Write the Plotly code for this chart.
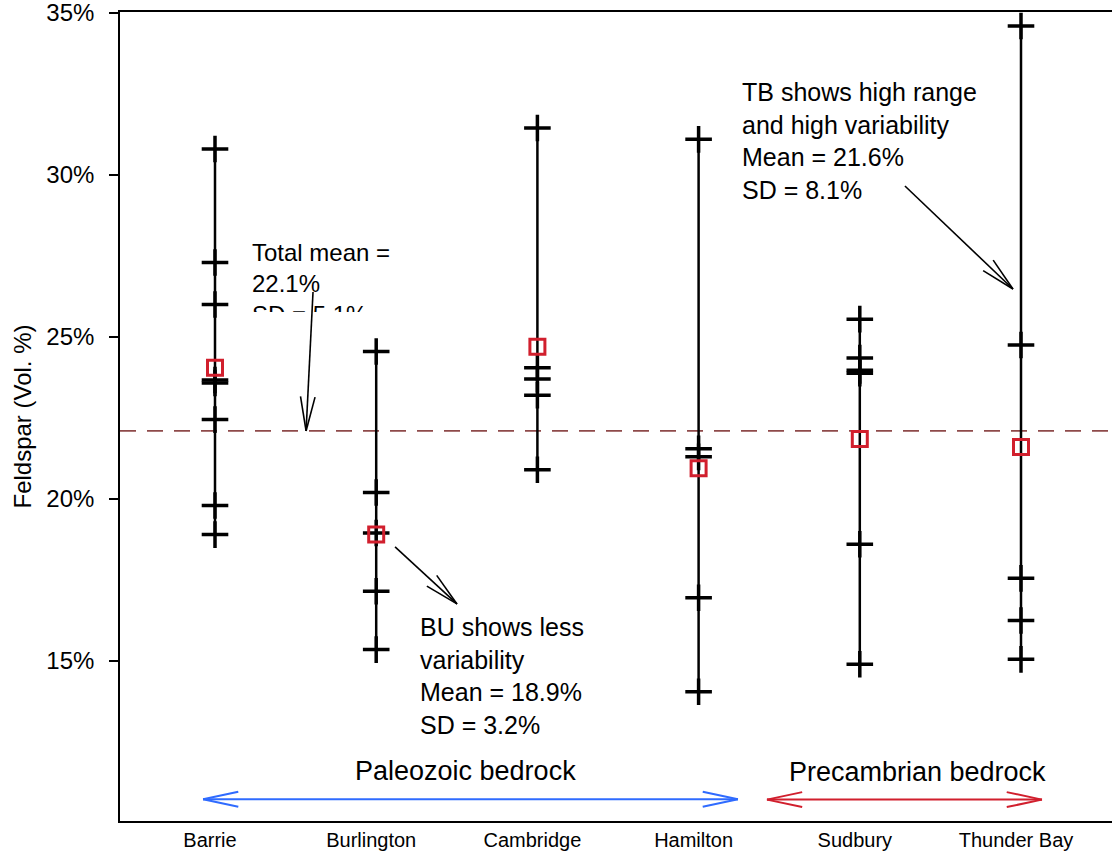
import math
import plotly.graph_objects as go

# ---------------- data ----------------
sites = ["Barrie", "Burlington", "Cambridge", "Hamilton", "Sudbury", "Thunder Bay"]
barrie = [30.8, 27.3, 26.0, 23.67, 23.58, 22.45, 19.8, 18.9]
burlington = [24.55, 20.2, 18.95, 17.15, 15.35]
cambridge = [31.45, 24.05, 23.7, 23.2, 20.9]
hamilton = [31.1, 21.55, 21.3, 16.95, 14.05]
sudbury = [25.55, 24.35, 23.97, 23.88, 18.6, 14.9]
thunder_bay = [34.6, 24.75, 17.55, 16.25, 15.05]
site_means = [24.05, 18.9, 24.7, 20.95, 21.85, 21.6]
total_mean = 22.1
y_ticks = [15, 20, 25, 30, 35]
y_tick_labels = ["15%", "20%", "25%", "30%", "35%"]

site_values = [barrie, burlington, cambridge, hamilton, sudbury, thunder_bay]
xpos = list(range(1, len(sites) + 1))

# ---------------- geometry ----------------
W, H = 1112, 851
ML, MR, MT, MB = 120, 0, 12, 30
X_RANGE = [0.4107, 6.5645]
Y_RANGE = [10.06, 35.03]
PW, PH = W - ML - MR, H - MT - MB
SX = PW / (X_RANGE[1] - X_RANGE[0])
SY = PH / (Y_RANGE[1] - Y_RANGE[0])

FONT = "Liberation Sans, Arial, Helvetica, sans-serif"
RED = "#D11F2D"
BLUE = "#2F6BFF"

fig = go.Figure()

# vertical range lines
lx, ly = [], []
for x, vals in zip(xpos, site_values):
    lx += [x, x, None]
    ly += [min(vals), max(vals), None]
fig.add_trace(go.Scatter(x=lx, y=ly, mode="lines",
                         line=dict(color="black", width=2.5),
                         hoverinfo="skip", showlegend=False))

# individual samples as crosses
px_, py_ = [], []
for x, vals in zip(xpos, site_values):
    px_ += [x] * len(vals)
    py_ += vals
fig.add_trace(go.Scatter(x=px_, y=py_, mode="markers",
                         marker=dict(symbol="cross-thin", size=19,
                                     line=dict(color="black", width=3.5)),
                         showlegend=False))

# site means
fig.add_trace(go.Scatter(x=xpos, y=site_means, mode="markers",
                         marker=dict(symbol="square-open", size=15, color=RED,
                                     line=dict(color=RED, width=3)),
                         showlegend=False))

# total mean text (partly hidden below)
fig.add_trace(go.Scatter(x=[1.2295], y=[27.9], mode="text",
                         text=["Total mean =<br>22.1%<br>SD = 5.1%"],
                         textposition="bottom right",
                         textfont=dict(family=FONT, size=24, color="black"),
                         showlegend=False, hoverinfo="skip"))

shapes = []
# dashed total mean line
shapes.append(dict(type="line", xref="paper", x0=0, x1=1, yref="y",
                   y0=total_mean, y1=total_mean, layer="below",
                   line=dict(color="#8E4A4A", width=1.6, dash="16px,11px")))
# white mask clipping the SD line
shapes.append(dict(type="rect", xref="x", yref="y", x0=1.17, x1=2.34,
                   y0=24.98, y1=25.77, layer="above",
                   fillcolor="white", line=dict(width=0)))


def arrow(x0, y0, x1, y1, color, width, both=False, L=35, ha=12):
    out = [dict(type="line", xref="x", yref="y", x0=x0, y0=y0, x1=x1, y1=y1,
                layer="above", line=dict(color=color, width=width))]
    ends = [(x0, y0, x1, y1)]
    if both:
        ends.append((x1, y1, x0, y0))
    for (ax, ay, bx, by) in ends:
        ang = math.atan2((by - ay) * SY, (bx - ax) * SX)
        for s in (-1, 1):
            a = ang + math.pi + s * math.radians(ha)
            hx = bx + L * math.cos(a) / SX
            hy = by + L * math.sin(a) / SY
            out.append(dict(type="line", xref="x", yref="y", x0=hx, y0=hy,
                            x1=bx, y1=by, layer="above",
                            line=dict(color=color, width=width)))
    return out


shapes += arrow(1.608, 26.39, 1.565, total_mean, "black", 1.6)
shapes += arrow(2.117, 18.52, 2.501, 16.76, "black", 1.6)
shapes += arrow(5.280, 29.66, 5.950, 26.48, "black", 1.6)
shapes += arrow(0.926, 10.73, 4.244, 10.73, BLUE, 2, both=True, L=36)
shapes += arrow(4.424, 10.72, 6.130, 10.72, RED, 2, both=True, L=36)

annotations = [
    dict(x=2.259, y=16.55, xref="x", yref="y", xanchor="left", yanchor="top",
         align="left", showarrow=False,
         text="BU shows less<br>variability<br>Mean = 18.9%<br>SD = 3.2%",
         font=dict(family=FONT, size=25, color="black")),
    dict(x=4.257, y=33.07, xref="x", yref="y", xanchor="left", yanchor="top",
         align="left", showarrow=False,
         text="TB shows high range<br>and high variability<br>Mean = 21.6%<br>SD = 8.1%",
         font=dict(family=FONT, size=25, color="black")),
    dict(x=2.551, y=11.6, xref="x", yref="y", xanchor="center", yanchor="middle",
         showarrow=False, text="Paleozoic bedrock",
         font=dict(family=FONT, size=27, color="black")),
    dict(x=5.361, y=11.57, xref="x", yref="y", xanchor="center", yanchor="middle",
         showarrow=False, text="Precambrian bedrock",
         font=dict(family=FONT, size=27, color="black")),
]

fig.update_layout(
    width=W, height=H,
    margin=dict(l=ML, r=MR, t=MT, b=MB, pad=0, autoexpand=False),
    paper_bgcolor="white", plot_bgcolor="white",
    shapes=shapes, annotations=annotations,
    showlegend=False,
    font=dict(family=FONT, color="black"),
)
fig.update_xaxes(range=X_RANGE, tickvals=xpos, ticktext=sites,
                 showgrid=False, zeroline=False,
                 showline=True, linecolor="black", linewidth=1.6, mirror=True,
                 ticks="", ticklabelstandoff=0, ticklabelshift=-5,
                 ticklabeloverflow="allow",
                 tickfont=dict(family=FONT, size=20, color="black"))
fig.update_yaxes(range=Y_RANGE, tickvals=y_ticks, ticktext=y_tick_labels,
                 showgrid=False, zeroline=False,
                 showline=True, linecolor="black", linewidth=1.6,
                 ticks="outside", ticklen=9, tickwidth=1.5, tickcolor="black",
                 ticklabelstandoff=10, ticklabeloverflow="allow",
                 tickfont=dict(family=FONT, size=24, color="black"),
                 title=dict(text="Feldspar (Vol. %)", standoff=8,
                            font=dict(family=FONT, size=24, color="black")))

fig.write_html("out.html",
               config={"displayModeBar": False},
               post_script="document.body.style.margin='0';"
                           "document.body.style.overflow='hidden';")
